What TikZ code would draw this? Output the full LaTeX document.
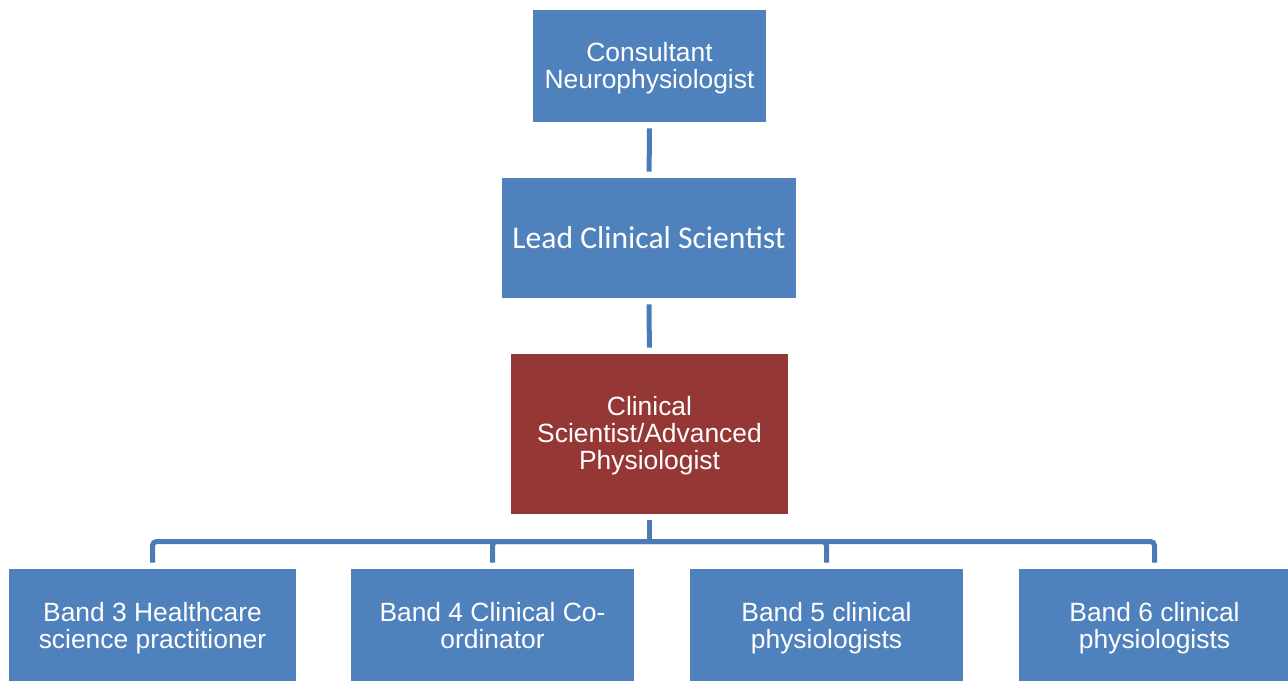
\documentclass[tikz,border=0pt]{standalone}
\usepackage{fontspec}
\setmainfont{Liberation Sans}
\newfontfamily\calibri{Carlito}
\definecolor{boxblue}{HTML}{4F81BD}
\definecolor{boxred}{HTML}{953735}
\definecolor{linkblue}{HTML}{4A7BB7}
\newcommand\hstrut{\rule{0pt}{11.75pt}}
\newcommand\dstrut{\rule[-3pt]{0pt}{3pt}}
\begin{document}
\begin{tikzpicture}[x=0.5pt,y=-0.5pt,
  post/.style={fill=boxblue,text=white,align=center,inner sep=0pt,
    font=\fontsize{13.2}{13.5}\selectfont},
  link/.style={draw=linkblue,line width=2.5pt}]
\useasboundingbox (0,0) rectangle (1288,680);
\node (cons) [post,minimum width=116.5pt,minimum height=56pt] at (649.5,66) {\hstrut Consultant\\Neurophysiologist\dstrut};
\node (lead) [post,minimum width=147pt,minimum height=60pt,font=\calibri\fontsize{15.8}{16}\selectfont] at (649,238) {Lead Clinical Scientist};
\node (adv) [post,fill=boxred,minimum width=138.5pt,minimum height=80pt] at (649.5,434) {\hstrut Clinical\\Scientist/Advanced\\Physiologist\dstrut};
\node (bthree) [post,minimum width=143.5pt,minimum height=57pt] at (152.5,626) {\hstrut Band 3 Healthcare\\science practitioner\dstrut};
\node (bfour) [post,minimum width=141.5pt,minimum height=57pt] at (492.5,626) {\hstrut Band 4 Clinical Co-\\ordinator\dstrut};
\node (bfive) [post,minimum width=136.5pt,minimum height=57pt] at (826.5,626) {\hstrut Band 5 clinical\\physiologists\dstrut};
\node (bsix) [post,minimum width=135.5pt,minimum height=57pt] at (1154.5,626) {\hstrut Band 6 clinical\\physiologists\dstrut};
\coordinate (bus) at (649.5,541.5);
\draw [link,shorten <=3pt,shorten >=3pt] (cons) -- (lead);
\draw [link,shorten <=3pt,shorten >=3pt] (lead) -- (adv);
\draw [link,shorten <=3pt] (adv) -- (bus);
\draw [link,rounded corners=2pt] (bus) -| ([yshift=3pt]bthree.north);
\draw [link,rounded corners=2pt] (bus) -| ([yshift=3pt]bfour.north);
\draw [link,rounded corners=2pt] (bus) -| ([yshift=3pt]bfive.north);
\draw [link,rounded corners=2pt] (bus) -| ([yshift=3pt]bsix.north);
\end{tikzpicture}
\end{document}
